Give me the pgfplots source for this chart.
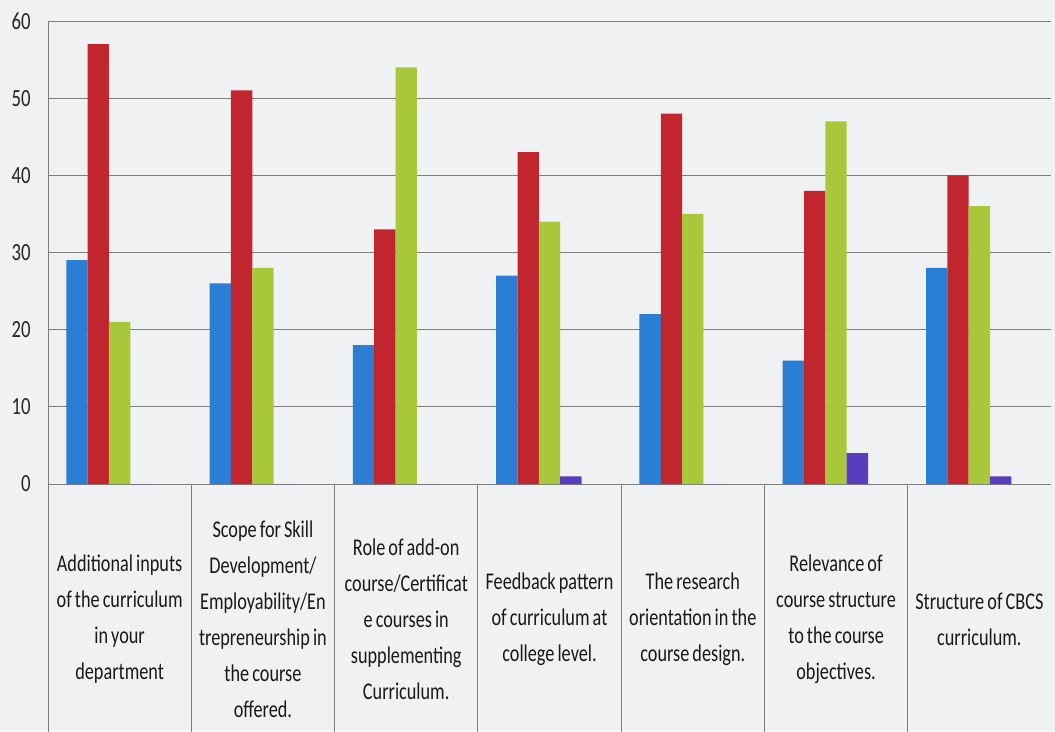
\documentclass[border=0pt]{standalone}
\usepackage{fontspec}
\setmainfont{Carlito}[FakeStretch=0.76, WordSpace=0.75]
\usepackage{pgfplots}
\pgfplotsset{compat=1.18}

\definecolor{bg}{RGB}{239,241,242}
\definecolor{sblue}{RGB}{42,126,212}
\definecolor{sred}{RGB}{193,38,46}
\definecolor{sgreen}{RGB}{168,199,58}
\definecolor{spurple}{RGB}{88,62,190}
\definecolor{gline}{RGB}{125,125,125}

\begin{document}
\begin{tikzpicture}
% photo-like background and page size
\fill[bg] (-36pt,-185.25pt) rectangle (755.25pt,363pt);
\path[use as bounding box] (-36pt,-185.25pt) rectangle (755.25pt,363pt);
\begin{axis}[
    at={(0pt,0pt)}, anchor=south west,
    scale only axis,
    width=752.25pt, height=347.25pt,
    ybar, bar width=16pt,
    xmin=0.5, xmax=7.5, ymin=0, ymax=60,
    ytick={0,10,...,60},
    xtick={1,...,7},
    xticklabels={
        {Additional inputs\\of the curriculum\\in your\\department},
        {Scope for Skill\\Development/\\Employability/En\\trepreneurship in\\the course\\offered.},
        {Role of add-on\\course/Certificat\\e courses in\\supplementing\\Curriculum.},
        {Feedback pattern\\of curriculum at\\college level.},
        {The research\\orientation in the\\course design.},
        {Relevance of\\course structure\\to the course\\objectives.},
        {Structure of CBCS\\curriculum.}},
    ymajorgrids,
    grid style={draw=gline, line width=0.55pt},
    axis x line*=bottom, axis y line*=left,
    axis line style={draw=gline, line width=0.55pt},
    major tick length=0pt,
    /pgf/number format/assume math mode=true,
    yticklabel style={inner sep=0pt, xshift=-12.75pt, text=black!85,
        font=\fontsize{18.5}{22}\selectfont},
    xticklabel style={anchor=center, inner sep=0pt, yshift=-101.25pt,
        align=center, text=black!90,
        font=\fontsize{18}{27}\selectfont},
    clip=false,
]
\addplot[fill=sblue, draw=none, bar shift=-32pt] coordinates {
    (1,29) (2,26) (3,18) (4,27) (5,22) (6,16) (7,28)};
\addplot[fill=sred, draw=none, bar shift=-16pt] coordinates {
    (1,57) (2,51) (3,33) (4,43) (5,48) (6,38) (7,40)};
\addplot[fill=sgreen, draw=none, bar shift=0pt] coordinates {
    (1,21) (2,28) (3,54) (4,34) (5,35) (6,47) (7,36)};
\addplot[fill=spurple, draw=none, bar shift=16pt] coordinates {
    (1,0) (2,0) (3,0) (4,1) (5,0) (6,4) (7,1)};
% table borders under the categories
\draw[gline, line width=0.55pt] (axis cs:0.5,0) -- ++(0pt,-190pt);
\draw[gline, line width=0.55pt] (axis cs:1.5,0) -- ++(0pt,-190pt);
\draw[gline, line width=0.55pt] (axis cs:2.5,0) -- ++(0pt,-190pt);
\draw[gline, line width=0.55pt] (axis cs:3.5,0) -- ++(0pt,-190pt);
\draw[gline, line width=0.55pt] (axis cs:4.5,0) -- ++(0pt,-190pt);
\draw[gline, line width=0.55pt] (axis cs:5.5,0) -- ++(0pt,-190pt);
\draw[gline, line width=0.55pt] (axis cs:6.5,0) -- ++(0pt,-190pt);
\end{axis}
\end{tikzpicture}
\end{document}
